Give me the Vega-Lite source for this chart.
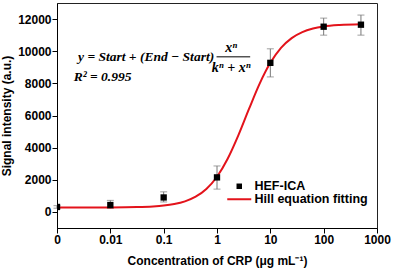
{
  "$schema": "https://vega.github.io/schema/vega-lite/v6.json",
  "width": 320,
  "height": 225,
  "autosize": "none",
  "padding": {"left": 57, "top": 3, "right": 16, "bottom": 44},
  "background": "white",
  "config": {
    "view": {"stroke": "#222", "strokeWidth": 1},
    "axis": {
      "labelFont": "Liberation Sans", "labelFontWeight": "bold", "labelFontSize": 12, "labelColor": "black",
      "titleFont": "Liberation Sans", "titleFontWeight": "bold", "titleFontSize": 12, "titleColor": "black",
      "domainColor": "black", "tickColor": "black", "tickSize": 5, "grid": false
    },
    "legend": {"labelFont": "Liberation Sans", "labelFontWeight": "bold", "labelFontSize": 12.5, "labelColor": "black"}
  },
  "datasets": {
    "pts": [
      {"conc": 0.001, "signal": 310, "lo": 230, "hi": 390, "series": "HEF-ICA"},
      {"conc": 0.01, "signal": 430, "lo": 220, "hi": 720, "series": "HEF-ICA"},
      {"conc": 0.1, "signal": 900, "lo": 620, "hi": 1250, "series": "HEF-ICA"},
      {"conc": 1, "signal": 2150, "lo": 1420, "hi": 2860, "series": "HEF-ICA"},
      {"conc": 10, "signal": 9275, "lo": 8400, "hi": 10150, "series": "HEF-ICA"},
      {"conc": 100, "signal": 11525, "lo": 11000, "hi": 12060, "series": "HEF-ICA"},
      {"conc": 500, "signal": 11650, "lo": 11000, "hi": 12250, "series": "HEF-ICA"}
    ],
    "fit": [
      {"conc": 0.001, "signal": 270, "series": "Hill equation fitting"},
      {"conc": 0.00316, "signal": 272, "series": "Hill equation fitting"},
      {"conc": 0.01, "signal": 277, "series": "Hill equation fitting"},
      {"conc": 0.0316, "signal": 299, "series": "Hill equation fitting"},
      {"conc": 0.0631, "signal": 340, "series": "Hill equation fitting"},
      {"conc": 0.1, "signal": 394, "series": "Hill equation fitting"},
      {"conc": 0.158, "signal": 490, "series": "Hill equation fitting"},
      {"conc": 0.251, "signal": 659, "series": "Hill equation fitting"},
      {"conc": 0.398, "signal": 948, "series": "Hill equation fitting"},
      {"conc": 0.631, "signal": 1429, "series": "Hill equation fitting"},
      {"conc": 1, "signal": 2191, "series": "Hill equation fitting"},
      {"conc": 1.585, "signal": 3307, "series": "Hill equation fitting"},
      {"conc": 2.512, "signal": 4763, "series": "Hill equation fitting"},
      {"conc": 3.981, "signal": 6408, "series": "Hill equation fitting"},
      {"conc": 6.31, "signal": 7985, "series": "Hill equation fitting"},
      {"conc": 10, "signal": 9277, "series": "Hill equation fitting"},
      {"conc": 15.85, "signal": 10207, "series": "Hill equation fitting"},
      {"conc": 25.12, "signal": 10815, "series": "Hill equation fitting"},
      {"conc": 39.81, "signal": 11189, "series": "Hill equation fitting"},
      {"conc": 63.1, "signal": 11408, "series": "Hill equation fitting"},
      {"conc": 100, "signal": 11535, "series": "Hill equation fitting"},
      {"conc": 199.5, "signal": 11630, "series": "Hill equation fitting"},
      {"conc": 501, "signal": 11678, "series": "Hill equation fitting"}
    ],
    "notes": [
      {"label": "y = Start + (End − Start)", "conc": 0.00248, "signal": 9670, "align": "left"},
      {"label": "xⁿ", "conc": 1.845, "signal": 10230, "align": "center"},
      {"label": "kⁿ + xⁿ", "conc": 1.845, "signal": 8960, "align": "center"},
      {"label": "R² = 0.995", "conc": 0.00205, "signal": 8375, "align": "left"}
    ],
    "bar": [
      {"conc": 0.98, "conc2": 4.19, "signal": 9650}
    ]
  },
  "encoding": {
    "x": {
      "field": "conc", "type": "quantitative",
      "scale": {"type": "log", "domain": [0.001, 1000], "nice": false},
      "axis": {
        "title": "Concentration of CRP (μg mL⁻¹)",
        "values": [0.001, 0.01, 0.1, 1, 10, 100, 1000],
        "labelExpr": "datum.value <= 0.0011 ? '0' : format(datum.value, '~g')",
        "labelPadding": 1, "titlePadding": 10, "labelFlush": false
      }
    },
    "y": {
      "field": "signal", "type": "quantitative",
      "scale": {"domain": [-1000, 13000], "nice": false, "zero": false},
      "axis": {
        "title": "Signal intensity (a.u.)",
        "values": [0, 2000, 4000, 6000, 8000, 10000, 12000],
        "format": "d", "labelPadding": 1, "titlePadding": 4
      }
    }
  },
  "layer": [
    {
      "data": {"name": "pts"},
      "mark": {"type": "rule", "color": "#777", "strokeWidth": 1},
      "encoding": {"y": {"field": "lo", "type": "quantitative"}, "y2": {"field": "hi"}}
    },
    {
      "data": {"name": "pts"},
      "mark": {"type": "tick", "orient": "horizontal", "color": "#777", "size": 7, "thickness": 1},
      "encoding": {"y": {"field": "lo", "type": "quantitative"}}
    },
    {
      "data": {"name": "pts"},
      "mark": {"type": "tick", "orient": "horizontal", "color": "#777", "size": 7, "thickness": 1},
      "encoding": {"y": {"field": "hi", "type": "quantitative"}}
    },
    {
      "data": {"name": "fit"},
      "mark": {"type": "line", "interpolate": "monotone", "strokeWidth": 2},
      "encoding": {
        "color": {
          "field": "series", "type": "nominal",
          "scale": {"domain": ["HEF-ICA", "Hill equation fitting"], "range": ["black", "#e3131b"]},
          "legend": {
            "title": null, "orient": "none", "legendX": 176, "legendY": 177,
            "symbolSize": 100, "labelOffset": 9, "rowPadding": -8,
            "encode": {
              "symbols": {
                "update": {
                  "shape": {"signal": "datum.value === 'HEF-ICA' ? 'square' : 'stroke'"},
                  "size": {"signal": "datum.value === 'HEF-ICA' ? 30 : 576"},
                  "fill": {"signal": "datum.value === 'HEF-ICA' ? 'black' : 'transparent'"},
                  "stroke": {"signal": "datum.value === 'HEF-ICA' ? 'transparent' : '#e3131b'"},
                  "strokeWidth": {"signal": "datum.value === 'HEF-ICA' ? 0 : 2"}
                }
              }
            }
          }
        }
      }
    },
    {
      "data": {"name": "pts"},
      "mark": {"type": "point", "shape": "square", "filled": true, "size": 40, "opacity": 1, "clip": true},
      "encoding": {"color": {"field": "series", "type": "nominal"}}
    },
    {
      "data": {"name": "notes"},
      "transform": [{"filter": "datum.align === 'left'"}],
      "mark": {"type": "text", "font": "Liberation Serif", "fontStyle": "italic", "fontWeight": "bold", "fontSize": 13.5, "align": "left", "baseline": "middle", "color": "black"},
      "encoding": {"text": {"field": "label", "type": "nominal"}}
    },
    {
      "data": {"name": "notes"},
      "transform": [{"filter": "datum.align === 'center'"}],
      "mark": {"type": "text", "font": "Liberation Serif", "fontStyle": "italic", "fontWeight": "bold", "fontSize": 14, "align": "center", "baseline": "middle", "color": "black"},
      "encoding": {"text": {"field": "label", "type": "nominal"}}
    },
    {
      "data": {"name": "bar"},
      "mark": {"type": "rule", "color": "black", "strokeWidth": 1},
      "encoding": {"x2": {"field": "conc2"}}
    }
  ]
}
